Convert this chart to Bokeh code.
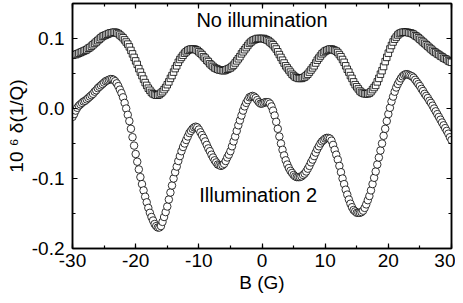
import numpy as np
from bokeh.plotting import figure
from bokeh.models import (LinearAxis, SingleIntervalTicker, PrintfTickFormatter,
                          Label, ColumnDataSource)
from bokeh.embed import file_html
from bokeh.resources import INLINE

# Magnetic field B (G), sampled every 0.25 G from -30 to 30
B_start, B_stop, B_count = -30.0, 30.0, 241
field = np.linspace(B_start, B_stop, B_count)

# 10^6 delta(1/Q), no illumination (open squares)
no_illum = [
    .076, .077, .077, .078, .079, .080, .081, .082, .083, .084, .086, .087,
    .089, .091, .093, .095, .097, .099, .101, .103, .104, .105, .106, .107,
    .108, .108, .109, .109, .108, .107, .105, .103, .101, .098, .095, .092,
    .088, .083, .078, .073, .068, .063, .057, .052, .047, .042, .037, .033,
    .029, .026, .023, .021, .020, .019, .019, .020, .022, .024, .027, .030,
    .034, .038, .043, .047, .052, .057, .061, .066, .070, .073, .076, .079,
    .081, .083, .084, .085, .085, .085, .084, .083, .081, .079, .077, .074,
    .072, .069, .067, .064, .062, .060, .058, .057, .056, .055, .055, .054,
    .054, .055, .056, .057, .058, .060, .062, .065, .068, .071, .074, .078,
    .081, .084, .087, .090, .093, .095, .097, .098, .099, .100, .100, .100,
    .100, .100, .099, .098, .097, .095, .093, .091, .088, .085, .081, .077,
    .073, .069, .065, .061, .058, .055, .052, .049, .047, .045, .044, .043,
    .043, .043, .044, .045, .047, .049, .052, .055, .058, .061, .065, .069,
    .072, .075, .078, .080, .082, .083, .084, .085, .085, .084, .083, .082,
    .080, .077, .074, .070, .066, .061, .056, .052, .047, .043, .038, .034,
    .031, .028, .025, .023, .022, .021, .021, .021, .022, .024, .027, .030,
    .033, .038, .043, .049, .054, .060, .067, .073, .079, .085, .090, .095,
    .099, .102, .105, .107, .108, .109, .109, .109, .109, .108, .108, .107,
    .106, .104, .103, .101, .099, .097, .095, .093, .091, .089, .087, .085,
    .083, .081, .080, .078, .077, .075, .074, .072, .071, .070, .068, .067,
    .066,
]

# 10^6 delta(1/Q), illumination 2 (open circles)
illum2 = [
    -.012, -.008, -.003, .001, .004, .006, .008, .010, .011, .013, .015, .017,
    .019, .021, .024, .026, .029, .031, .033, .035, .037, .039, .040, .041,
    .042, .042, .041, .039, .036, .032, .027, .022, .016, .008, .000, -.009,
    -.018, -.029, -.041, -.053, -.065, -.076, -.087, -.098, -.108, -.117, -.126, -.134,
    -.142, -.149, -.155, -.160, -.165, -.168, -.170, -.170, -.168, -.162, -.155, -.148,
    -.140, -.130, -.120, -.110, -.100, -.091, -.083, -.075, -.068, -.061, -.055, -.050,
    -.045, -.040, -.035, -.032, -.029, -.027, -.026, -.027, -.030, -.034, -.038, -.042,
    -.047, -.052, -.057, -.061, -.066, -.070, -.074, -.077, -.080, -.081, -.082, -.081,
    -.079, -.075, -.070, -.066, -.061, -.054, -.047, -.040, -.032, -.024, -.017, -.010,
    -.003, .003, .008, .012, .016, .017, .018, .017, .015, .012, .009, .007,
    .007, .008, .009, .009, .009, .007, .003, -.003, -.010, -.019, -.029, -.040,
    -.050, -.059, -.067, -.074, -.080, -.085, -.089, -.092, -.095, -.097, -.098, -.098,
    -.098, -.097, -.095, -.093, -.090, -.086, -.082, -.077, -.073, -.068, -.063, -.058,
    -.054, -.050, -.047, -.045, -.043, -.042, -.042, -.043, -.046, -.052, -.059, -.066,
    -.073, -.082, -.091, -.100, -.108, -.116, -.123, -.130, -.136, -.141, -.145, -.147,
    -.149, -.149, -.149, -.148, -.146, -.142, -.137, -.131, -.125, -.117, -.108, -.099,
    -.090, -.080, -.070, -.060, -.050, -.039, -.029, -.018, -.008, .001, .010, .017,
    .024, .030, .035, .039, .043, .046, .048, .049, .049, .048, .047, .046,
    .044, .041, .038, .035, .032, .028, .025, .021, .018, .015, .011, .008,
    .004, .000, -.004, -.008, -.012, -.016, -.020, -.024, -.028, -.032, -.036, -.041,
    -.045,
]

x_ticks_interval = 10
y_ticks_interval = 0.1
FONT = "Liberation Sans"

p = figure(frame_width=379, frame_height=245, x_range=(-30, 30), y_range=(-0.2, 0.15),
           output_backend="svg", toolbar_location=None,
           min_border_left=72, min_border_right=4, min_border_top=3, min_border_bottom=10,
           x_axis_label="B (G)", y_axis_label="10 \u2076 \u03b4(1/Q)")
p.grid.visible = False
p.outline_line_color = "black"
p.outline_line_width = 1.5
p.background_fill_color = "white"
p.border_fill_color = "white"

src_s = ColumnDataSource(dict(x=field, y=no_illum))
src_c = ColumnDataSource(dict(x=field, y=illum2))
p.scatter("x", "y", source=src_s, marker="square", size=6.5,
          fill_color="white", line_color="black", line_width=0.8)
p.scatter("x", "y", source=src_c, marker="circle", size=7.5,
          fill_color="white", line_color="black", line_width=0.8)

def style_axis(ax, labels=True):
    ax.axis_line_width = 1.5
    ax.axis_line_color = "black"
    ax.major_tick_in = 5
    ax.major_tick_out = 0
    ax.minor_tick_in = 3
    ax.minor_tick_out = 0
    ax.major_tick_line_width = 1.2
    ax.minor_tick_line_width = 1.2
    if labels:
        ax.major_label_text_font = FONT
        ax.major_label_text_font_size = "19px"
        ax.major_label_text_color = "black"
        ax.axis_label_text_font = FONT
        ax.axis_label_text_font_size = "19px"
        ax.axis_label_text_font_style = "normal"
        ax.axis_label_text_color = "black"
    else:
        ax.major_label_text_font_size = "0px"
        ax.major_label_standoff = 0

xt = SingleIntervalTicker(interval=x_ticks_interval, num_minor_ticks=2)
yt = SingleIntervalTicker(interval=y_ticks_interval, num_minor_ticks=2)

p.xaxis.ticker = xt
p.yaxis.ticker = yt
p.xaxis.formatter = PrintfTickFormatter(format="%d")
p.yaxis.formatter = PrintfTickFormatter(format="%.1f")
style_axis(p.xaxis[0])
style_axis(p.yaxis[0])
p.xaxis.major_label_standoff = 5
p.yaxis.major_label_standoff = 8
p.xaxis.axis_label_standoff = 2
p.yaxis.axis_label_standoff = 2

top = LinearAxis(ticker=SingleIntervalTicker(interval=x_ticks_interval, num_minor_ticks=2))
right = LinearAxis(ticker=SingleIntervalTicker(interval=y_ticks_interval, num_minor_ticks=2))
style_axis(top, labels=False)
style_axis(right, labels=False)
p.add_layout(top, "above")
p.add_layout(right, "right")

p.add_layout(Label(x=0, y=0.127, text="No illumination", text_align="center",
                   text_baseline="middle", text_font=FONT, text_font_size="20px",
                   text_color="black"))
p.add_layout(Label(x=-0.6, y=-0.124, text="Illumination 2", text_align="center",
                   text_baseline="middle", text_font=FONT, text_font_size="20px",
                   text_color="black"))

open("out.html", "w").write(file_html(p, INLINE))
